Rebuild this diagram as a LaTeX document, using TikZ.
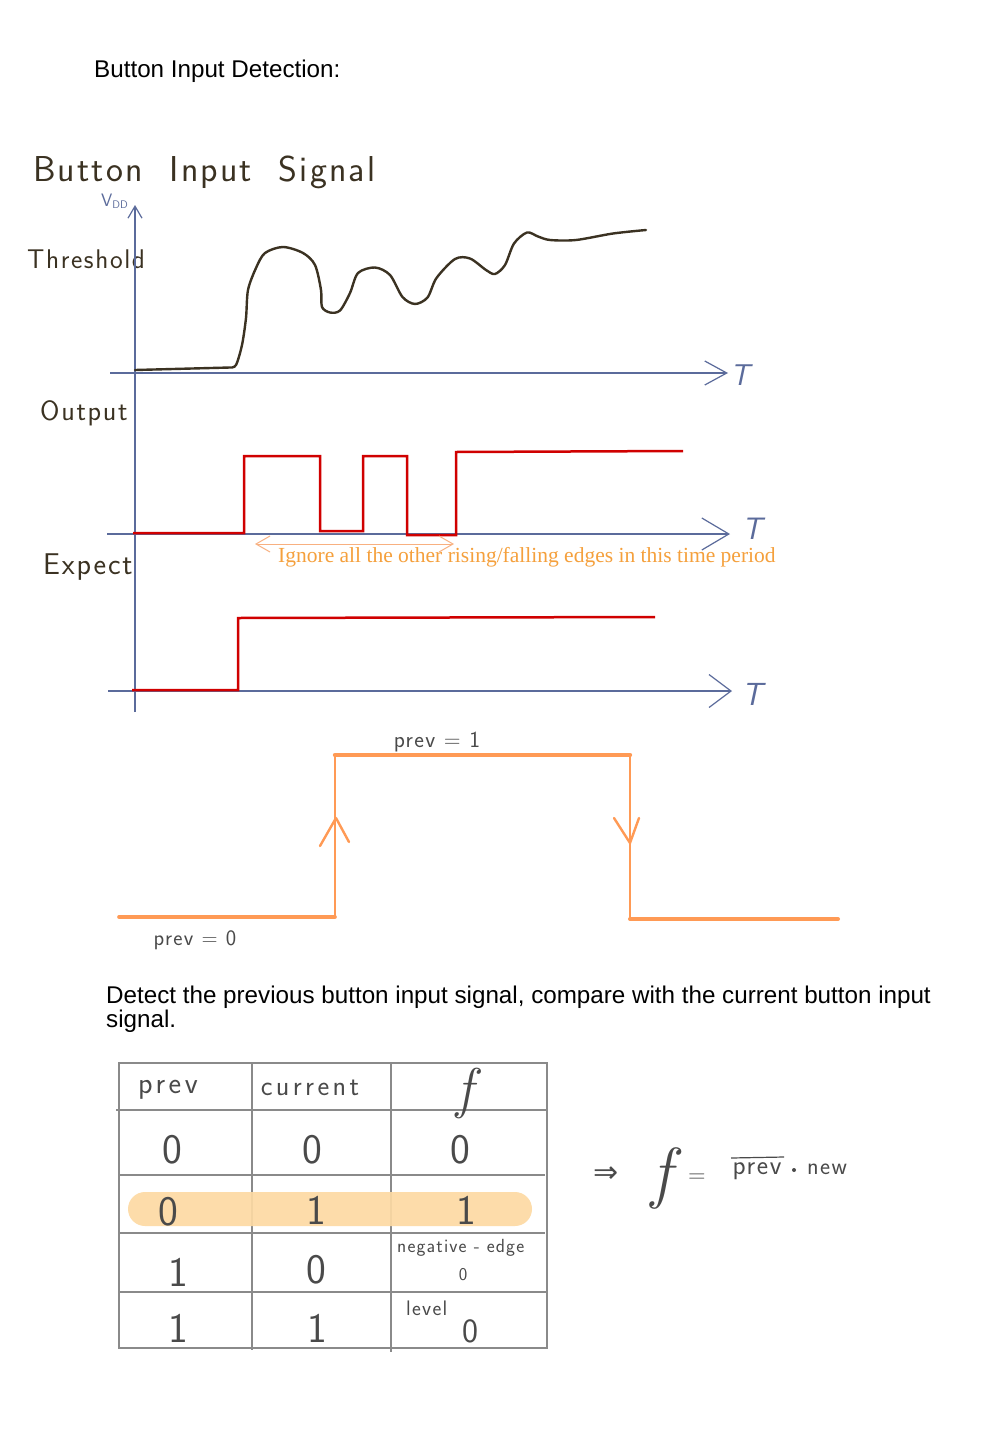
\documentclass[tikz,border=0pt]{standalone}
\usepackage{fontspec}
\newfontfamily\arialf{Liberation Sans}
\newfontfamily\serf{Liberation Serif}
\newfontfamily\symf{DejaVu Sans}
\newfontfamily\handf[LetterSpace=6]{Latin Modern Sans}
\newfontfamily\handw[LetterSpace=12]{Latin Modern Sans}
\usetikzlibrary{arrows.meta}
\definecolor{handc}{HTML}{3B3222}
\definecolor{axisc}{HTML}{5B6B9B}
\definecolor{redc}{HTML}{D00000}
\definecolor{orc}{HTML}{FF9A55}
\definecolor{lorc}{HTML}{F8B080}
\definecolor{otxt}{HTML}{F5A03C}
\definecolor{gridc}{HTML}{8A8A8A}
\definecolor{hil}{HTML}{FDDAA3}
\definecolor{tabc}{HTML}{4A4A4A}
\begin{document}
\begin{tikzpicture}[x=1pt,y=-1pt,
  hand/.style={text=handc, inner sep=0pt},
  tab/.style={text=tabc, inner sep=0pt},
  axis/.style={draw=axisc, line width=1.2pt},
  sig/.style={draw=redc, line width=2.5pt, line join=miter},
  ostep/.style={draw=orc, line cap=round},
  grid/.style={draw=gridc, line width=1.3pt},
  hs/.style={font=\handf\fontsize{#1}{#1}\selectfont}]
\useasboundingbox[fill=white] (0,0) rectangle (1000,1429);

% headings
\node[anchor=west, inner sep=0pt, font=\arialf\fontsize{24.2}{24}\selectfont] (head1) at (94,71) {Button Input Detection:};
\node[anchor=north west, inner sep=0pt, align=left, font=\arialf\fontsize{24.2}{24}\selectfont] (head2) at (106,986) {Detect the previous button input signal, compare with the current button input\\signal.};

% handwritten labels
\node[hand, font=\handf\fontsize{36}{36}\selectfont, anchor=west] (title) at (33,172) {Button\ \ Input\ \ Signal};
\node[text=axisc, inner sep=0pt, font=\sffamily\fontsize{18}{18}\selectfont, anchor=west] (vdd) at (101,201) {V\raisebox{-2pt}{\fontsize{11}{11}\selectfont DD}};
\node[hand, hs=27, anchor=west] (thr) at (27,259) {Threshold};
\node[hand, hs=28, anchor=west] (outl) at (40,413) {Output};
\node[hand, hs=30, anchor=west] (expl) at (43,567) {Expect};

% axes
\coordinate (vb) at (135,712);
\coordinate (vt) at (135,205);
\draw[axis, -{Straight Barb[length=12pt,width=14pt]}] (vb) -- (vt);
\coordinate (a1s) at (110,373); \coordinate (a1e) at (728,373);
\coordinate (a2s) at (107,534); \coordinate (a2e) at (730,534);
\coordinate (a3s) at (108,691); \coordinate (a3e) at (732,691);
\draw[axis, -{Straight Barb[length=22pt,width=24pt]}] (a1s) -- (a1e);
\draw[axis, -{Straight Barb[length=27pt,width=32pt]}] (a2s) -- (a2e);
\draw[axis, -{Straight Barb[length=22pt,width=33pt]}] (a3s) -- (a3e);
\node[text=axisc, inner sep=0pt, font=\sffamily\itshape\fontsize{30}{30}\selectfont] (t1) at (740,375) {T};
\node[text=axisc, inner sep=0pt, font=\sffamily\itshape\fontsize{31}{31}\selectfont] (t2) at (752,529) {T};
\node[text=axisc, inner sep=0pt, font=\sffamily\itshape\fontsize{32}{32}\selectfont] (t3) at (752,694) {T};

% input waveform
\draw[draw=handc, line width=2.4pt, line cap=round, line join=round]
  (135,370) -- (230,367.5)
  plot[smooth, tension=0.5] coordinates {
  (230,367.5) (236,365) (242,345) (246,318) (248,290) (256,268) (265,253)
  (283,247) (303,253) (315,265) (321,290) (322,307) (330,312.5) (340,310.5)
  (350,293) (358,273) (375,267.5) (390,275) (402.5,297) (415,304) (427.5,297.5)
  (436.5,278) (455,259) (470,258.5) (486,270) (495,274) (505,265) (514,243.5)
  (527,232.5) (538,236.5) (550,240) (576,240) (613,233.5) (646,230)};

% output signal
\draw[sig] (133,533) -- (244,533) -- (244,456) -- (320,456) -- (320,531) -- (363,531)
  -- (363,456) -- (407,456) -- (407,535) -- (456,535) -- (456,452) -- (683,451);

% ignore arrow and text
\coordinate (ig1) at (255,544);
\coordinate (ig2) at (454,544);
\draw[draw=lorc, line width=1pt, {Straight Barb[length=14pt,width=16pt]}-{Straight Barb[length=14pt,width=16pt]}] (ig1) -- (ig2);
\node[anchor=west, inner sep=0pt, text=otxt, font=\serf\fontsize{21.5}{21.5}\selectfont] (ign) at (278,557) {Ignore all the other rising/falling edges in this time period};

% expected
\draw[sig] (132,690) -- (238,690) -- (238,618) -- (655,617);

% orange step
\coordinate (o1) at (119,917);
\coordinate (o2) at (335,917);
\coordinate (o3) at (335,755);
\coordinate (o4) at (630,755);
\coordinate (o5) at (630,919);
\coordinate (o6) at (838,919);
\draw[ostep, line width=3.6pt] (o1) -- (o2);
\draw[ostep, line width=2.6pt] (o2) -- (o3);
\draw[ostep, line width=4.4pt] (o3) -- (o4);
\draw[ostep, line width=2.6pt] (o4) -- (o5);
\draw[ostep, line width=4pt] (o5) -- (o6);
\draw[ostep, line width=2.4pt, line join=round] (320,846) -- (336,818) -- (349,842);
\draw[ostep, line width=2.4pt, line join=round] (614,818) -- (630,843) -- (639,818);
\node[tab, hs=23] (p1) at (437,742) {prev = 1};
\node[tab, hs=22] (p0) at (195,940) {prev = 0};

% table
\draw[grid] (119,1063) rectangle (547,1348);
\draw[grid] (252,1063) -- (252,1350);
\draw[grid] (391,1063) -- (391,1352);
\draw[grid] (116,1110) -- (547,1110);
\draw[grid] (119,1175) -- (545,1175);
\draw[grid] (119,1233) -- (545,1233);
\draw[grid] (118,1292) -- (547,1292);
\fill[hil, fill opacity=0.92, rounded corners=17pt] (128,1192) rectangle (532,1226);

\node[tab, font=\handw\fontsize{30}{30}\selectfont] (hprev) at (168,1090) {prev};
\node[tab, font=\handw\fontsize{28}{28}\selectfont] (hcur) at (310,1088) {current};
\node[tab, font=\rmfamily\itshape\fontsize{56}{56}\selectfont] (hf) at (465,1093) {f};
\node[tab, hs=42] (c11) at (172,1150) {0};
\node[tab, hs=42] (c12) at (312,1150) {0};
\node[tab, hs=42] (c13) at (460,1150) {0};
\node[tab, hs=42] (c21) at (168,1212) {0};
\node[tab, hs=42] (c22) at (316,1210) {1};
\node[tab, hs=42] (c23) at (466,1210) {1};
\node[tab, hs=42] (c31) at (178,1272) {1};
\node[tab, hs=42] (c32) at (316,1270) {0};
\node[tab, hs=19, anchor=west] (neg) at (397,1248) {negative - edge};
\node[tab, hs=18] (c33) at (463,1275) {0};
\node[tab, hs=42] (c41) at (178,1328) {1};
\node[tab, hs=42] (c42) at (317,1328) {1};
\node[tab, hs=21, anchor=west] (lev) at (406,1308) {level};
\node[tab, hs=34] (c43) at (470,1331) {0};

% formula
\node[tab, font=\symf\fontsize{30}{30}\selectfont] (impl) at (606,1175) {⇒};
\node[tab, font=\rmfamily\itshape\fontsize{68}{68}\selectfont] (ff) at (662,1178) {f};
\node[tab, font=\sffamily\fontsize{24}{24}\selectfont] (eq) at (697,1178) {=};
\node[tab, hs=27] (fprev) at (757,1171) {prev};
\draw[draw=tabc, line width=1.2pt] (731,1158) -- (784,1157);
\fill[tabc] (794,1170) circle (2pt);
\node[tab, hs=24] (fnew) at (827,1169) {new};
\end{tikzpicture}
\end{document}
